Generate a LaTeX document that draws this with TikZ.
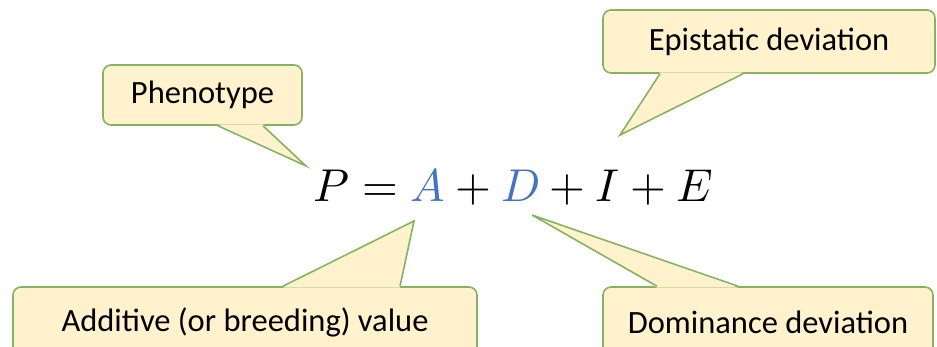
\documentclass[tikz,border=0pt]{standalone}
\usepackage{fontspec}
\setmainfont{Carlito}
\usepackage{unicode-math}
\setmathfont{Latin Modern Math}
\usetikzlibrary{calc}
\definecolor{bubblefill}{RGB}{255,242,204}
\definecolor{bubbleedge}{RGB}{132,180,98}
\definecolor{termblue}{RGB}{68,114,196}

\begin{document}
\begin{tikzpicture}[x=1pt, y=1pt,
  bubble/.style={draw=bubbleedge, line width=1.6pt, fill=bubblefill, rounded corners=8pt, inner sep=0pt, font=\fontsize{32.5}{39}\selectfont},
  tail/.style={draw=bubbleedge, line width=1.6pt, line join=miter}]
  \useasboundingbox (0,0) rectangle (937,347);
  \clip (0,0) rectangle (937,347);

  % the equation and where the tails point
  \node[anchor=base, font=\fontsize{46}{55}\selectfont] (eq) at (513,145)
    {$P = {\color{termblue}A} + {\color{termblue}D} + I + E$};
  \coordinate (tipP) at (306,181);
  \coordinate (tipI) at (620,212);
  \coordinate (tipA) at (414,126);
  \coordinate (tipD) at (532,132);

  % callout boxes
  \node[bubble, minimum width=199pt, minimum height=60pt] (pheno) at (202.5,252) {Phenotype};
  \node[bubble, minimum width=332pt, minimum height=63pt] (epis) at (769,305.5) {Epistatic deviation};
  \node[bubble, minimum width=464pt, minimum height=70pt] (addv) at (245,25) {Additive (or breeding) value};
  \node[bubble, minimum width=330pt, minimum height=70pt] (domi) at (768,25) {Dominance deviation};

  % tails
  \fill[bubblefill] ($(pheno.south)+(15.5,1.4)$) -- (tipP) -- ($(pheno.south)+(60.5,1.4)$) -- cycle;
  \draw[tail] ($(pheno.south)+(15.5,0)$) -- (tipP) -- ($(pheno.south)+(60.5,0)$);

  \fill[bubblefill] ($(epis.south)+(-109,1.4)$) -- (tipI) -- ($(epis.south)+(-26,1.4)$) -- cycle;
  \draw[tail] ($(epis.south)+(-109,0)$) -- (tipI) -- ($(epis.south)+(-26,0)$);

  \fill[bubblefill] ($(addv.north)+(38,-1.4)$) -- (tipA) -- ($(addv.north)+(155,-1.4)$) -- cycle;
  \draw[tail] ($(addv.north)+(38,0)$) -- (tipA) -- ($(addv.north)+(155,0)$);

  \fill[bubblefill] ($(domi.north)+(-111,-1.4)$) -- (tipD) -- ($(domi.north)+(-30,-1.4)$) -- cycle;
  \draw[tail] ($(domi.north)+(-111,0)$) -- (tipD) -- ($(domi.north)+(-30,0)$);
\end{tikzpicture}
\end{document}
